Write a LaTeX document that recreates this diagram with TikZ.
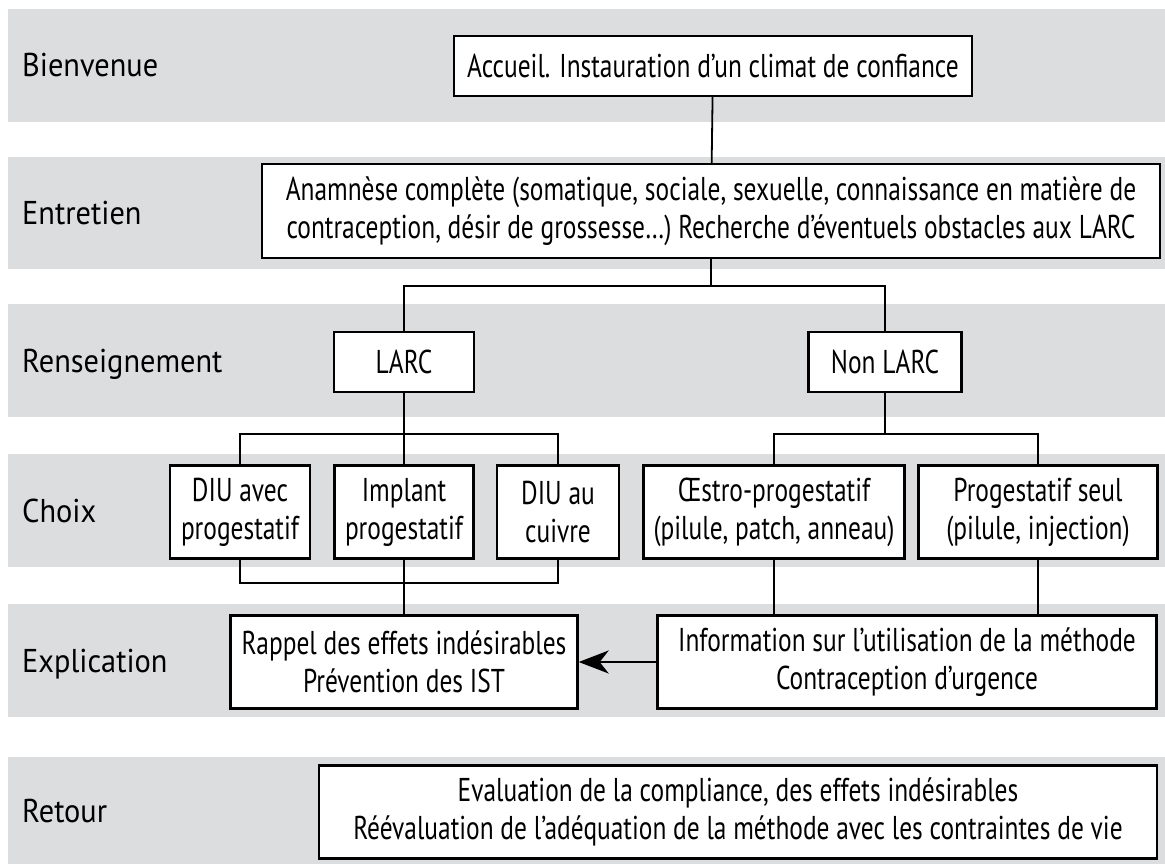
\documentclass[tikz,border=0pt]{standalone}
\usepackage{fontspec}
\setmainfont{PT Sans}[FakeStretch=0.77]
\newfontfamily\stepfont{PT Sans}[FakeStretch=0.92]
\usetikzlibrary{arrows.meta}
\definecolor{bandgray}{RGB}{220,221,223}

\begin{document}
\begin{tikzpicture}[x=1pt,y=-1pt,
  band/.style={fill=bandgray},
  lbl/.style={anchor=west,inner sep=0pt,text height=23pt,text depth=0pt,font=\stepfont\fontsize{33}{38}\selectfont},
  box/.style={draw,line width=2.4pt,fill=white,align=center,inner sep=0pt,font=\fontsize{33}{38}\selectfont},
  link/.style={line width=1.8pt}]
\useasboundingbox (0,0) rectangle (1165,864);
% bandes grises
\fill[band] (8,9) rectangle (1165,122);
\fill[band] (8,157) rectangle (1165,269);
\fill[band] (8,304) rectangle (1165,417);
\fill[band] (8,454) rectangle (1165,567);
\fill[band] (8,604) rectangle (1165,717);
\fill[band] (8,757) rectangle (1165,864);
% etapes
\node[lbl] (bienvenue) at (22,65) {Bienvenue};
\node[lbl] (entretien) at (22,213) {Entretien};
\node[lbl] (renseign) at (22,361) {Renseignement};
\node[lbl] (choix) at (22,511) {Choix};
\node[lbl] (explic) at (22,661) {Explication};
\node[lbl] (retour) at (22,811) {Retour};
% boites
\node[box,minimum width=518pt,minimum height=60pt] (accueil) at (713,66) {Accueil. Instauration d’un climat de confiance};
\node[box,minimum width=898pt,minimum height=94pt] (anamnese) at (711,211) {Anamnèse complète (somatique, sociale, sexuelle, connaissance en matière de\\contraception, désir de grossesse…) Recherche d’éventuels obstacles aux LARC};
\node[box,minimum width=140pt,minimum height=60pt] (larc) at (404,362) {LARC};
\node[box,minimum width=153pt,minimum height=60pt] (nonlarc) at (885,362) {Non LARC};
\node[box,minimum width=140pt,minimum height=93pt] (diuprog) at (240,512) {DIU avec\\progestatif};
\node[box,minimum width=139pt,minimum height=93pt] (implant) at (404,512) {Implant\\progestatif};
\node[box,minimum width=122pt,minimum height=93pt] (diucuivre) at (558,512) {DIU au\\cuivre};
\node[box,minimum width=261pt,minimum height=93pt] (oestro) at (774,512) {Œstro-progestatif\\(pilule, patch, anneau)};
\node[box,minimum width=239pt,minimum height=93pt] (progseul) at (1038,512) {Progestatif seul\\(pilule, injection)};
\node[box,minimum width=347pt,minimum height=93pt] (rappel) at (404,662) {Rappel des effets indésirables\\Prévention des IST};
\node[box,minimum width=499pt,minimum height=93pt] (info) at (907,662) {Information sur l’utilisation de la méthode\\Contraception d’urgence};
\node[box,minimum width=838pt,minimum height=93pt] (evaluation) at (738,812) {Evaluation de la compliance, des effets indésirables\\Réévaluation de l’adéquation de la méthode avec les contraintes de vie};
% points de jonction
\coordinate (fork1) at (711,286);
\coordinate (fork2) at (404,434);
\coordinate (fork3) at (885,434);
\coordinate (join1) at (404,583);
% liens
\draw[link] (accueil) -- (anamnese);
\draw[link] (anamnese) -- (fork1);
\draw[link] (larc) |- (fork1) -| (nonlarc);
\draw[link] (larc) -- (fork2);
\draw[link] (diuprog) |- (fork2) -| (diucuivre);
\draw[link] (fork2) -- (implant);
\draw[link] (nonlarc) -- (fork3);
\draw[link] (oestro) |- (fork3) -| (progseul);
\draw[link] (diuprog) |- (join1) -| (diucuivre);
\draw[link] (implant) -- (rappel);
\draw[link] (oestro.south) -- (oestro.south |- info.north);
\draw[link] (progseul.south) -- (progseul.south |- info.north);
\draw[link,-{Stealth[length=30pt,width=23pt,inset=9pt]}] (info) -- (rappel);
\end{tikzpicture}
\end{document}
